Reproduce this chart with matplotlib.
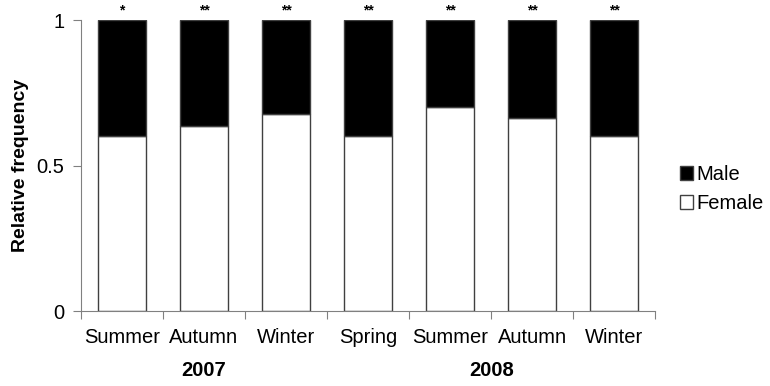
import matplotlib.pyplot as plt

plt.rcParams['font.family'] = ['Liberation Sans', 'DejaVu Sans']

# Seasonal sex ratio, stacked to 1
seasons = ["Summer", "Autumn", "Winter", "Spring", "Summer", "Autumn", "Winter"]
female = [0.60, 0.635, 0.676, 0.60, 0.702, 0.662, 0.601]
male = [1 - f for f in female]
signif = ["*", "**", "**", "**", "**", "**", "**"]
years = ["2007", "2008"]
year_pos = [1.0, 4.5]

fig = plt.figure(figsize=(7.7, 3.86), dpi=100)
ax = fig.add_axes([0.105, 0.194, 0.746, 0.754])

x = range(len(seasons))
grey = "#808080"
ax.bar(x, female, width=0.58, color="white", edgecolor="#404040", linewidth=1.0, label="Female")
ax.bar(x, male, bottom=female, width=0.58, color="black", edgecolor="#404040", linewidth=1.0, label="Male")

for i, s in enumerate(signif):
    ax.text(i, 1.01, s, ha="center", va="bottom", fontsize=10, fontweight="bold")

ax.set_xlim(-0.5, len(seasons) - 0.5)
ax.set_ylim(0, 1)
ax.set_yticks([0, 0.5, 1])
ax.set_yticklabels(["0", "0.5", "1"], fontsize=14.5)
ax.set_ylabel("Relative frequency", fontsize=14, fontweight="bold", labelpad=5)

# category labels between boundary ticks, Excel style
ax.set_xticks([i + 0.5 for i in range(-1, len(seasons))])
ax.set_xticklabels([])
ax.set_xticks(list(x), minor=True)
ax.set_xticklabels(seasons, minor=True, fontsize=14.5)
ax.tick_params(axis="x", which="minor", length=0, pad=12)
ax.tick_params(axis="x", which="major", length=6, color=grey, direction="out")
ax.tick_params(axis="y", length=6, color=grey, pad=6)

for y_, p in zip(years, year_pos):
    ax.text(p, -0.205, y_, transform=ax.get_xaxis_transform(), ha="center", va="center",
            fontsize=14.5, fontweight="bold")

for side in ["top", "right"]:
    ax.spines[side].set_visible(False)
for side in ["left", "bottom"]:
    ax.spines[side].set_color(grey)

handles, labels = ax.get_legend_handles_labels()
fig.legend(handles[::-1], labels[::-1], loc="center left", bbox_to_anchor=(0.883, 0.51),
           frameon=False, fontsize=14.5, handlelength=0.65, handleheight=0.7,
           handletextpad=0.15, labelspacing=0.5, borderpad=0, borderaxespad=0)

fig.savefig("out.png", dpi=100)
